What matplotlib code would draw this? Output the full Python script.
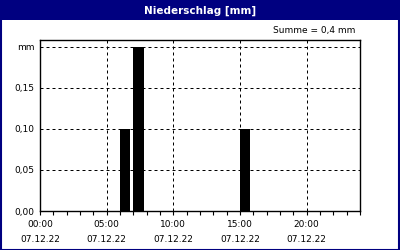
import matplotlib
matplotlib.use("Agg")
import matplotlib.pyplot as plt
from matplotlib.patches import Rectangle
from matplotlib.ticker import MultipleLocator, FixedLocator

# Data: hourly precipitation (mm) for 07.12.22
hours = list(range(24))
precip = [0, 0, 0, 0, 0, 0, 0.1, 0.2, 0, 0, 0, 0,
          0, 0, 0, 0.1, 0, 0, 0, 0, 0, 0, 0, 0]
date_label = "07.12.22"
xtick_hours = [0, 5, 10, 15, 20]
xtick_labels = [f"{h:02d}:00\n{date_label}" for h in xtick_hours]
ytick_values = [0.0, 0.05, 0.10, 0.15, 0.20]
ytick_labels = ["0,00", "0,05", "0,10", "0,15", "mm"]
title = "Niederschlag [mm]"

navy = "#000080"
W, H = 400, 250
fig = plt.figure(figsize=(W / 100, H / 100), dpi=100)
fig.patch.set_facecolor("white")

# axes placement in pixels
left, right, top, bottom = 40, 360, 40, 211
ax = fig.add_axes([left / W, 1 - bottom / H, (right - left) / W, (bottom - top) / H])

ax.bar(hours, precip, width=0.78, align="edge", color="black", linewidth=0, zorder=1)

ax.set_xlim(0, 24)
ax.set_ylim(0, 0.2085)

ax.xaxis.set_major_locator(FixedLocator(xtick_hours))
ax.set_xticklabels(xtick_labels, fontsize=6.5, linespacing=1.9)
ax.xaxis.set_minor_locator(MultipleLocator(1))
ax.tick_params(axis="x", which="both", direction="out", length=3, width=0.8, pad=3.5)

ax.set_yticks(ytick_values)
ax.set_yticklabels(ytick_labels, fontsize=6.5)
ax.tick_params(axis="y", which="both", length=0, pad=4)

ax.set_axisbelow(False)
ax.grid(True, which="major", color="black", linestyle=(0, (3, 3)), linewidth=0.72, zorder=2)

for s in ax.spines.values():
    s.set_linewidth(1.0)
    s.set_color("black")
    s.set_zorder(3)

# title bar and border
fig.patches.append(Rectangle((0, 1 - 20 / H), 1, 20 / H, transform=fig.transFigure,
                             facecolor=navy, edgecolor="none", zorder=0))
fig.patches.append(Rectangle((0.5 / W, 0.5 / H), 1 - 2 / W, 1 - 1.5 / H, transform=fig.transFigure,
                             facecolor="none", edgecolor=navy, linewidth=1.5, zorder=5))
fig.text(0.5, 1 - 10.5 / H, title, color="white", fontsize=7.5, fontweight="bold",
         ha="center", va="center")

total = sum(precip)
fig.text(355 / W, 1 - 31 / H, f"Summe = {total:.1f}".replace(".", ",") + " mm",
         fontsize=6.5, ha="right", va="center")

fig.savefig("out.png", dpi=100)
